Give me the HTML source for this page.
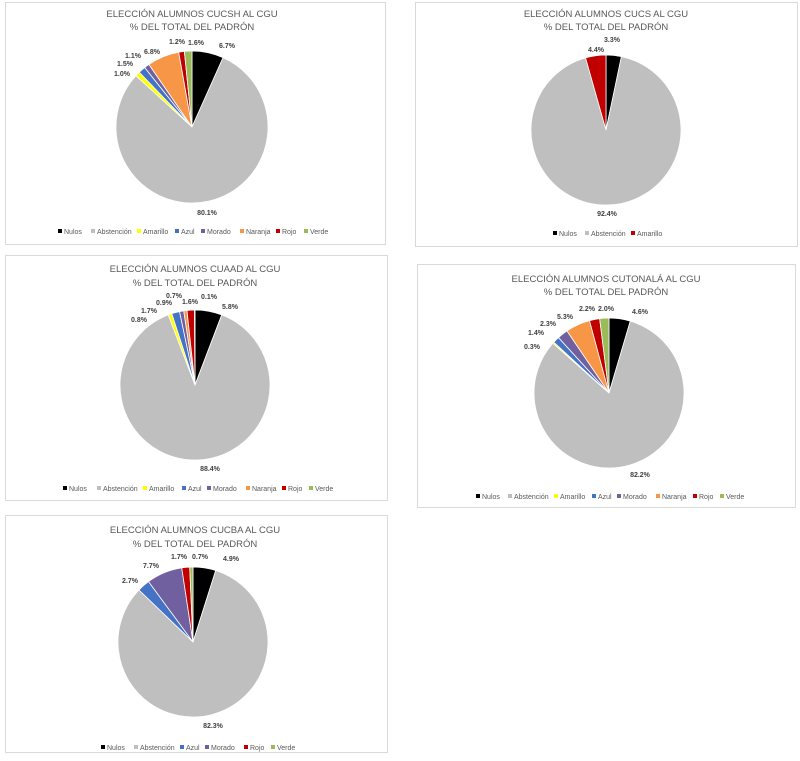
<!DOCTYPE html>
<html><head><meta charset="utf-8"><style>
body{margin:0;background:#fff;width:800px;height:761px;overflow:hidden;font-family:"Liberation Sans",sans-serif}
svg{position:absolute;left:0;top:0}
.t{font-size:9.5px;fill:#595959;text-anchor:middle}
.l{font-size:7px;font-weight:bold;fill:#404040;text-anchor:middle}
.g{font-size:7px;fill:#595959}
</style></head><body>
<svg id="s" width="800" height="761" xmlns="http://www.w3.org/2000/svg">
<rect x="5.5" y="2.5" width="380" height="242" fill="#fff" stroke="#d9d9d9"/>
<rect x="415.5" y="2.5" width="382" height="244" fill="#fff" stroke="#d9d9d9"/>
<rect x="5.5" y="255.5" width="382" height="245" fill="#fff" stroke="#d9d9d9"/>
<rect x="417.5" y="264.5" width="378" height="243" fill="#fff" stroke="#d9d9d9"/>
<rect x="5.5" y="515.5" width="382" height="237" fill="#fff" stroke="#d9d9d9"/>
<g id="pies"></g>
<!-- chart1 -->
<text class="t" x="192" y="17">ELECCIÓN ALUMNOS CUCSH AL CGU</text>
<text class="t" x="192" y="30">% DEL TOTAL DEL PADRÓN</text>
<text class="l" x="227" y="48">6.7%</text><text class="l" x="196" y="45">1.6%</text><text class="l" x="177" y="44">1.2%</text>
<text class="l" x="152" y="54">6.8%</text><text class="l" x="133" y="58">1.1%</text><text class="l" x="125" y="66">1.5%</text>
<text class="l" x="122" y="76">1.0%</text><text class="l" x="207" y="215">80.1%</text>
<!-- chart2 -->
<text class="t" x="606" y="17">ELECCIÓN ALUMNOS CUCS AL CGU</text>
<text class="t" x="606" y="30">% DEL TOTAL DEL PADRÓN</text>
<text class="l" x="612" y="42">3.3%</text><text class="l" x="596" y="52">4.4%</text><text class="l" x="607" y="216">92.4%</text>
<!-- chart3 -->
<text class="t" x="195" y="272">ELECCIÓN ALUMNOS CUAAD AL CGU</text>
<text class="t" x="195" y="286">% DEL TOTAL DEL PADRÓN</text>
<text class="l" x="209" y="299">0.1%</text><text class="l" x="230" y="309">5.8%</text><text class="l" x="190" y="304">1.6%</text>
<text class="l" x="174" y="298">0.7%</text><text class="l" x="164" y="305">0.9%</text><text class="l" x="149" y="313">1.7%</text>
<text class="l" x="139" y="322">0.8%</text><text class="l" x="210" y="471">88.4%</text>
<!-- chart4 -->
<text class="t" x="606" y="282">ELECCIÓN ALUMNOS CUTONALÁ AL CGU</text>
<text class="t" x="606" y="295">% DEL TOTAL DEL PADRÓN</text>
<text class="l" x="640" y="314">4.6%</text><text class="l" x="606" y="311">2.0%</text><text class="l" x="587" y="311">2.2%</text>
<text class="l" x="565" y="319">5.3%</text><text class="l" x="548" y="326">2.3%</text><text class="l" x="536" y="335">1.4%</text>
<text class="l" x="532" y="349">0.3%</text><text class="l" x="640" y="477">82.2%</text>
<!-- chart5 -->
<text class="t" x="195" y="533">ELECCIÓN ALUMNOS CUCBA AL CGU</text>
<text class="t" x="195" y="547">% DEL TOTAL DEL PADRÓN</text>
<text class="l" x="231" y="561">4.9%</text><text class="l" x="200" y="559">0.7%</text><text class="l" x="179" y="559">1.7%</text>
<text class="l" x="151" y="568">7.7%</text><text class="l" x="130" y="583">2.7%</text><text class="l" x="213" y="728">82.3%</text>
<!-- legends -->
<g class="g">
<rect x="58" y="229" width="4" height="4" fill="#000"/><text x="64" y="234">Nulos</text>
<rect x="91" y="229" width="4" height="4" fill="#bfbfbf"/><text x="97" y="234">Abstención</text>
<rect x="137" y="229" width="4" height="4" fill="#ffff00"/><text x="143" y="234">Amarillo</text>
<rect x="175" y="229" width="4" height="4" fill="#4472c4"/><text x="181" y="234">Azul</text>
<rect x="201" y="229" width="4" height="4" fill="#7060a0"/><text x="207" y="234">Morado</text>
<rect x="240" y="229" width="4" height="4" fill="#f79646"/><text x="246" y="234">Naranja</text>
<rect x="276" y="229" width="4" height="4" fill="#c00000"/><text x="282" y="234">Rojo</text>
<rect x="304" y="229" width="4" height="4" fill="#9bbb59"/><text x="310" y="234">Verde</text>

<rect x="553" y="231" width="4" height="4" fill="#000"/><text x="559" y="236">Nulos</text>
<rect x="585" y="231" width="4" height="4" fill="#bfbfbf"/><text x="591" y="236">Abstención</text>
<rect x="631" y="231" width="4" height="4" fill="#c00000"/><text x="637" y="236">Amarillo</text>

<rect x="63" y="486" width="4" height="4" fill="#000"/><text x="69" y="491">Nulos</text>
<rect x="97" y="486" width="4" height="4" fill="#bfbfbf"/><text x="103" y="491">Abstención</text>
<rect x="143" y="486" width="4" height="4" fill="#ffff00"/><text x="149" y="491">Amarillo</text>
<rect x="182" y="486" width="4" height="4" fill="#4472c4"/><text x="188" y="491">Azul</text>
<rect x="207" y="486" width="4" height="4" fill="#7060a0"/><text x="213" y="491">Morado</text>
<rect x="246" y="486" width="4" height="4" fill="#f79646"/><text x="252" y="491">Naranja</text>
<rect x="282" y="486" width="4" height="4" fill="#c00000"/><text x="288" y="491">Rojo</text>
<rect x="309" y="486" width="4" height="4" fill="#9bbb59"/><text x="315" y="491">Verde</text>

<rect x="476" y="494" width="4" height="4" fill="#000"/><text x="482" y="499">Nulos</text>
<rect x="508" y="494" width="4" height="4" fill="#bfbfbf"/><text x="514" y="499">Abstención</text>
<rect x="554" y="494" width="4" height="4" fill="#ffff00"/><text x="560" y="499">Amarillo</text>
<rect x="592" y="494" width="4" height="4" fill="#4472c4"/><text x="598" y="499">Azul</text>
<rect x="617" y="494" width="4" height="4" fill="#7060a0"/><text x="623" y="499">Morado</text>
<rect x="656" y="494" width="4" height="4" fill="#f79646"/><text x="662" y="499">Naranja</text>
<rect x="693" y="494" width="4" height="4" fill="#c00000"/><text x="699" y="499">Rojo</text>
<rect x="720" y="494" width="4" height="4" fill="#9bbb59"/><text x="726" y="499">Verde</text>

<rect x="101" y="745" width="4" height="4" fill="#000"/><text x="107" y="750">Nulos</text>
<rect x="134" y="745" width="4" height="4" fill="#bfbfbf"/><text x="140" y="750">Abstención</text>
<rect x="180" y="745" width="4" height="4" fill="#4472c4"/><text x="186" y="750">Azul</text>
<rect x="205" y="745" width="4" height="4" fill="#7060a0"/><text x="211" y="750">Morado</text>
<rect x="244" y="745" width="4" height="4" fill="#c00000"/><text x="250" y="750">Rojo</text>
<rect x="271" y="745" width="4" height="4" fill="#9bbb59"/><text x="277" y="750">Verde</text>
</g>
</svg>
<script>
var C={n:"#000",a:"#bfbfbf",y:"#ffff00",b:"#4472c4",m:"#7060a0",o:"#f79646",r:"#c00000",v:"#9bbb59"};
var P=[
[192,127,76,[["n",6.7],["a",80.1],["y",1.0],["b",1.5],["m",1.1],["o",6.8],["r",1.2],["v",1.6]]],
[606,130,75,[["n",3.3],["a",92.4],["r",4.4]]],
[195,385,75,[["n",5.8],["a",88.4],["y",0.8],["b",1.7],["m",0.9],["o",0.7],["r",1.6],["v",0.1]]],
[609,393,75,[["n",4.6],["a",82.2],["y",0.3],["b",1.4],["m",2.3],["o",5.3],["r",2.2],["v",2.0]]],
[193,642,75,[["n",4.9],["a",82.3],["b",2.7],["m",7.7],["r",1.7],["v",0.7]]]];
var h="";
P.forEach(function(p){var cx=p[0],cy=p[1],R=p[2],s=p[3],tot=0;s.forEach(function(e){tot+=e[1]});var a=0;
s.forEach(function(e){var a1=a+e[1]/tot*2*Math.PI;var x0=cx+R*Math.sin(a),y0=cy-R*Math.cos(a),x1=cx+R*Math.sin(a1),y1=cy-R*Math.cos(a1);
h+='<path d="M'+cx+' '+cy+'L'+x0.toFixed(2)+' '+y0.toFixed(2)+'A'+R+' '+R+' 0 '+((a1-a)>Math.PI?1:0)+' 1 '+x1.toFixed(2)+' '+y1.toFixed(2)+'Z" fill="'+C[e[0]]+'" stroke="#fff" stroke-width="0.8"/>';a=a1;});});
document.getElementById("pies").innerHTML=h;
</script>
</body></html>
